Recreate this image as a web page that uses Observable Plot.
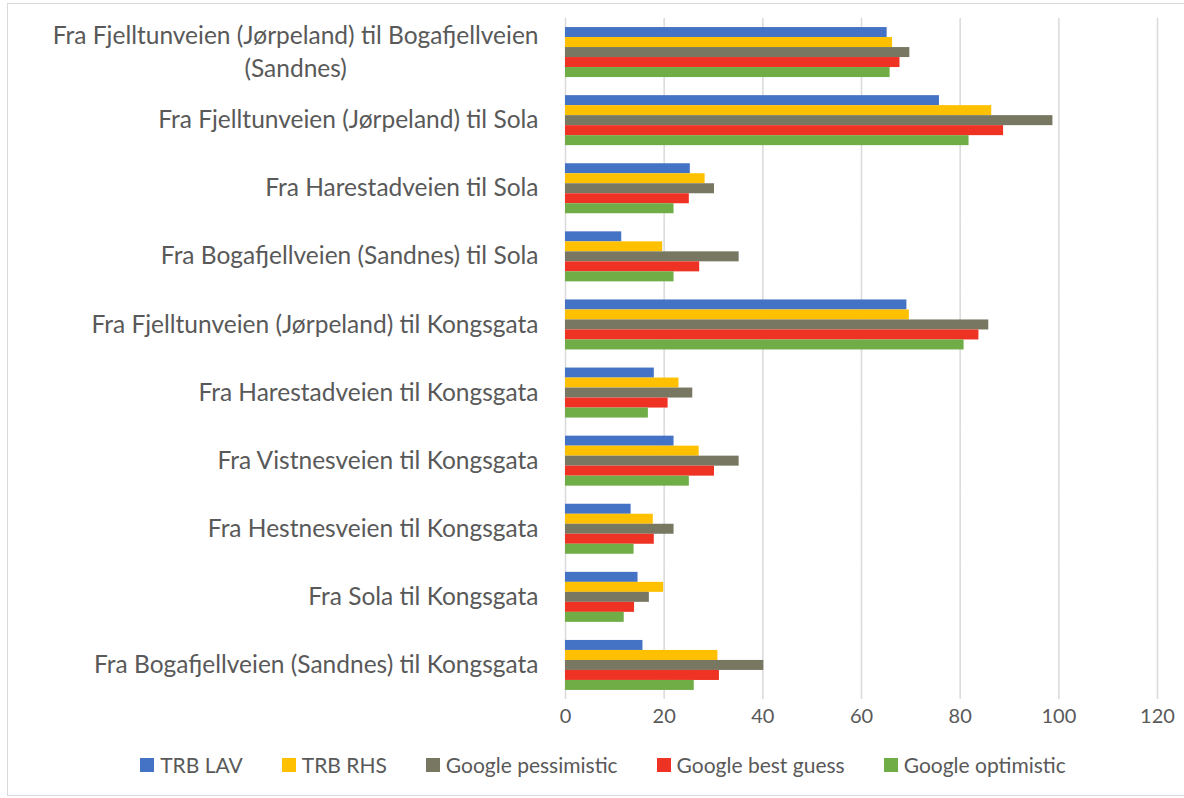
<!DOCTYPE html>
<html>
<head>
<meta charset="utf-8">
<script src="https://cdn.jsdelivr.net/npm/d3@7"></script>
<script src="https://cdn.jsdelivr.net/npm/@observablehq/plot@0.6"></script>
<style>
  html, body { margin: 0; padding: 0; background: #fff; }
  #wrap { position: relative; width: 1184px; height: 798px; overflow: hidden; font-family: Lato, "Open Sans", sans-serif; }
  #border { position: absolute; left: 7px; top: 3px; width: 1200px; height: 793px; border: 1px solid #d9d9d9; box-sizing: border-box; }
  #plot { position: absolute; left: 0; top: 0; }
  #legend { position: absolute; left: 0; top: 752px; width: 1184px; display: flex; justify-content: center; gap: 39px; padding-left: 22px; box-sizing: border-box; font-size: 21px; color: #595959; }
  #legend .item { display: flex; align-items: center; gap: 6px; }
  #legend .sw { width: 14px; height: 14px; display: inline-block; }
</style>
</head>
<body>
<div id="wrap">
  <div id="border"></div>
  <div id="plot"></div>
  <div id="legend"></div>
</div>
<script>
const categories = [
  "Fra Fjelltunveien (Jørpeland) til Bogafjellveien\n(Sandnes)",
  "Fra Fjelltunveien (Jørpeland) til Sola",
  "Fra Harestadveien til Sola",
  "Fra Bogafjellveien (Sandnes) til Sola",
  "Fra Fjelltunveien (Jørpeland) til Kongsgata",
  "Fra Harestadveien til Kongsgata",
  "Fra Vistnesveien til Kongsgata",
  "Fra Hestnesveien til Kongsgata",
  "Fra Sola til Kongsgata",
  "Fra Bogafjellveien (Sandnes) til Kongsgata"
];
const series = ["TRB LAV", "TRB RHS", "Google pessimistic", "Google best guess", "Google optimistic"];
const colors = ["#4472C4", "#FFC000", "#787862", "#EE3224", "#70AD47"];

const trbLav            = [65.2, 75.8, 25.3, 11.4, 69.2, 18.0, 22.0, 13.3, 14.7, 15.7];
const trbRhs            = [66.3, 86.4, 28.3, 19.7, 69.7, 23.0, 27.1, 17.8, 19.9, 30.9];
const googlePessimistic = [69.8, 98.8, 30.2, 35.2, 85.8, 25.8, 35.2, 22.0, 17.0, 40.2];
const googleBestGuess   = [67.8, 88.8, 25.1, 27.2, 83.8, 20.8, 30.2, 18.0, 14.0, 31.2];
const googleOptimistic  = [65.8, 81.8, 22.0, 22.0, 80.8, 16.8, 25.1, 13.9, 11.9, 26.1];

const seriesValues = [trbLav, trbRhs, googlePessimistic, googleBestGuess, googleOptimistic];
const xTicks = [0, 20, 40, 60, 80, 100, 120];

const data = [];
categories.forEach((c, i) => {
  series.forEach((s, j) => {
    data.push({category: c, series: s, value: seriesValues[j][i]});
  });
});

const chart = Plot.plot({
  width: 1184,
  height: 745,
  marginLeft: 565,
  marginRight: 27,
  marginTop: 18,
  marginBottom: 46,
  style: {fontFamily: "Lato, 'Open Sans', sans-serif", color: "#595959", background: "transparent"},
  x: {domain: [0, 120], ticks: xTicks},
  y: {domain: series, paddingInner: 0, paddingOuter: 0.905, round: false, axis: null},
  fy: {domain: categories, padding: 0, round: false, label: null},
  color: {domain: series, range: colors},
  marks: [
    Plot.gridX(xTicks, {stroke: "#d9d9d9", strokeOpacity: 1, strokeWidth: 1.5}),
    Plot.barX(data, {x: "value", y: "series", fy: "category", fill: "series", inset: 0}),
    Plot.axisX(xTicks, {tickSize: 0, tickPadding: 9, fontSize: 20, label: null, fill: "#595959"}),
    Plot.axisFy({anchor: "left", tickSize: 0, tickPadding: 27, dy: -3, fontSize: 24.5, label: null, lineHeight: 1.35, fill: "#595959"})
  ]
});
document.getElementById("plot").appendChild(chart);

// Center the lines of the wrapped category label, as in the original
chart.querySelectorAll("text").forEach(t => {
  const spans = t.querySelectorAll("tspan");
  if (spans.length > 1) {
    const L = spans[0].getComputedTextLength();
    t.setAttribute("text-anchor", "middle");
    spans.forEach(sp => sp.setAttribute("x", -L / 2));
  }
});

const legend = document.getElementById("legend");
series.forEach((s, i) => {
  const item = document.createElement("div");
  item.className = "item";
  const sw = document.createElement("span");
  sw.className = "sw";
  sw.style.background = colors[i];
  const lab = document.createElement("span");
  lab.textContent = s;
  item.appendChild(sw);
  item.appendChild(lab);
  legend.appendChild(item);
});
</script>
</body>
</html>
